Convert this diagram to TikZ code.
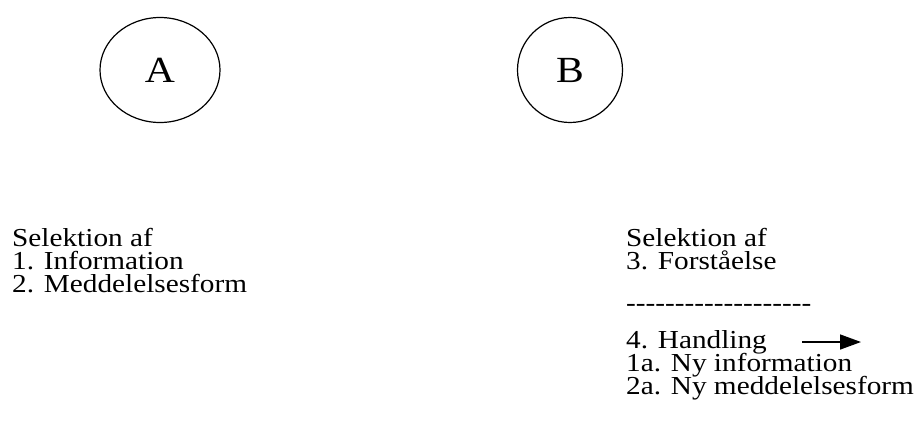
\documentclass[tikz,border=0pt]{standalone}
\usepackage{fontspec}
\setmainfont{Liberation Serif}[FakeStretch=1.13]
\newfontfamily\strfont{Liberation Serif}[FakeStretch=1.13,Ligatures=TeXOff]
\usetikzlibrary{positioning,arrows.meta,shapes.geometric}

\newcommand\tekstfont{\fontsize{26}{23}\selectfont\lineskiplimit-10bp\relax}

\tikzset{
  aktor/.style={draw,ellipse,line width=1.2bp,minimum width=120bp,minimum height=105bp,inner sep=0pt,font=\fontsize{37}{40}\selectfont},
  tekst/.style={anchor=base west,align=left,inner sep=0pt,font=\tekstfont},
}

\begin{document}
\begin{tikzpicture}[x=1bp,y=-1bp,node distance=410bp,on grid]
    \useasboundingbox (0,0) rectangle (924,420);
    \node[aktor]                     (A) at (160,70) {A};
    \node[aktor,minimum width=105bp] (B) [right=of A] {B};

    % base = sidste linjes grundlinje
    \node[tekst] (selA) at (12,292)  {Selektion af\\1. Information\\2. Meddelelsesform};
    \node[tekst] (selB) at (626,269) {Selektion af\\3. Forståelse};
    \node[tekst,font=\tekstfont\strfont] (streg) at (626,311) {-------------------};
    \node[tekst] (hand) at (626,394) {4. Handling\\1a. Ny information\\2a. Ny meddelelsesform};

    \coordinate (pil-s) at (802,342);
    \coordinate (pil-e) at (861,342);
    \draw[line width=1.5bp,-{Triangle[length=21bp,width=15bp]}] (pil-s) -- (pil-e);
  \end{tikzpicture}
\end{document}
